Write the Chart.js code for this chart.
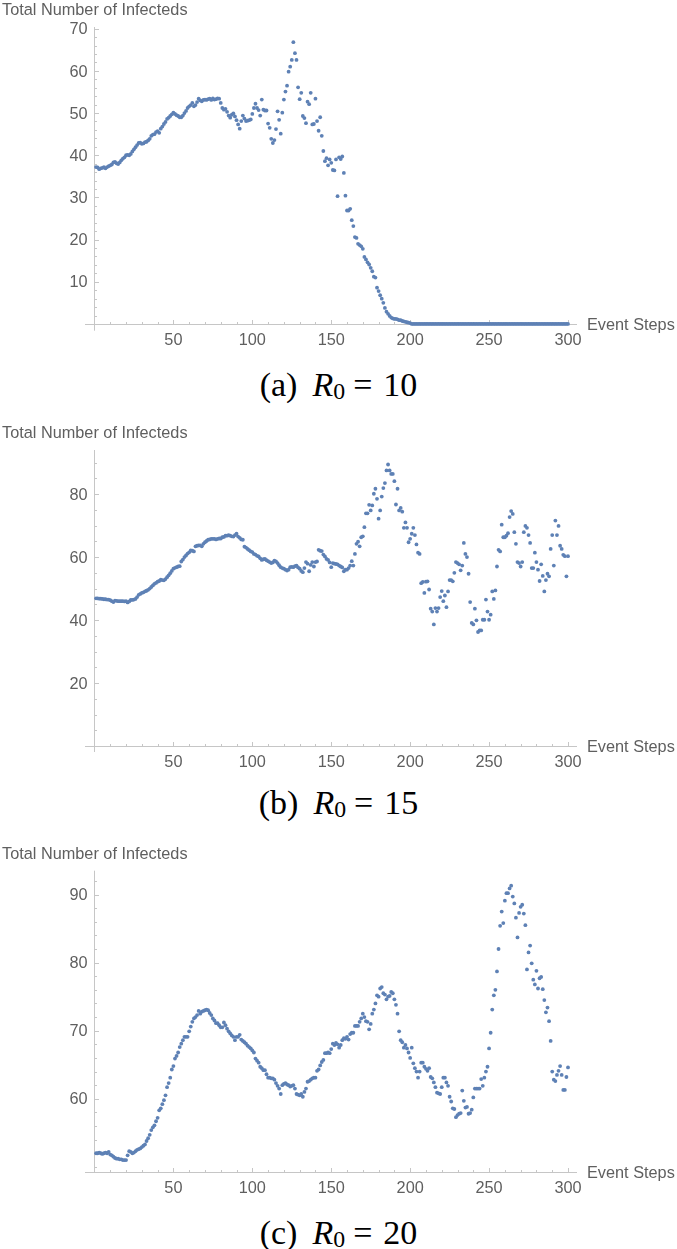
<!DOCTYPE html>
<html>
<head>
<meta charset="utf-8">
<script src="https://cdn.jsdelivr.net/npm/chart.js@4.4.1/dist/chart.umd.min.js"></script>
<style>
  html, body { margin: 0; padding: 0; background: #fff; }
  body { width: 677px; height: 1249px; position: relative; overflow: hidden; }
  canvas { position: absolute; left: 0; }
  .cap { position: absolute; left: 0; width: 677px; text-align: center; white-space: nowrap;
         font: 34px "Liberation Serif", serif; line-height: 34px; color: #000; }
  .cap i { margin-left: 15px; }
  .cap sub { font-size: 0.7em; vertical-align: -0.12em; line-height: 0; }
  .cap .eq { margin-left: 8px; }
  .cap .n { margin-left: 11px; }
</style>
</head>
<body>
<canvas id="chartA" width="677" height="360" style="top:0px"></canvas>
<canvas id="chartB" width="677" height="360" style="top:420px"></canvas>
<canvas id="chartC" width="677" height="360" style="top:840px"></canvas>
<div class="cap" style="top:368px">(a)<i>R</i><sub>0</sub><span class="eq">=</span><span class="n">10</span></div>
<div class="cap" style="top:786px">(b)<i>R</i><sub>0</sub><span class="eq">=</span><span class="n">15</span></div>
<div class="cap" style="top:1216px">(c)<i>R</i><sub>0</sub><span class="eq">=</span><span class="n">20</span></div>
<script>
// event steps 1..300
const steps = Array.from({ length: 300 }, (_, i) => i + 1);

// R0 = 10
const infectedR10 = [
  37.2, 37.1, 36.7, 36.9, 37.0, 37.2, 36.9, 37.2, 37.4, 37.6,
  37.8, 38.3, 38.4, 38.1, 37.9, 38.3, 38.8, 39.2, 39.5, 40.0,
  40.1, 40.0, 40.3, 40.9, 41.4, 41.9, 42.4, 42.9, 43.0, 42.7,
  42.8, 43.1, 43.2, 43.5, 43.9, 44.6, 44.9, 45.0, 45.5, 45.7,
  45.3, 46.3, 46.8, 47.4, 47.9, 48.6, 48.9, 49.3, 49.7, 50.1,
  49.8, 49.5, 49.3, 49.0, 49.0, 49.4, 50.0, 50.5, 51.2, 51.6,
  51.9, 52.4, 51.6, 51.9, 52.6, 53.4, 53.0, 52.8, 53.1, 53.2,
  53.1, 53.3, 53.4, 53.1, 53.5, 53.2, 53.3, 53.5, 53.4, 52.4,
  51.2, 50.8, 51.0, 50.3, 49.4, 48.9, 49.6, 49.9, 49.2, 48.3,
  47.3, 46.3, 48.1, 49.4, 48.7, 48.1, 48.2, 48.3, 48.5, 49.8,
  51.2, 52.2, 51.2, 50.7, 49.4, 53.2, 50.8, 50.6, 50.6, 47.5,
  46.5, 43.9, 42.9, 43.6, 46.2, 50.4, 48.4, 45.1, 50.1, 53.2,
  55.1, 56.5, 59.8, 61.0, 62.6, 66.8, 64.2, 62.6, 56.1, 53.3,
  54.8, 49.3, 48.8, 47.6, 52.7, 52.1, 54.8, 47.3, 47.4, 53.4,
  48.1, 45.8, 49.0, 44.6, 41.0, 38.6, 39.3, 37.6, 39.0, 38.2,
  36.5, 36.4, 39.0, 30.3, 39.5, 39.1, 39.7, 35.8, 30.4, 26.9,
  26.9, 27.3, 24.6, 23.2, 20.6, 20.4, 19.0, 18.7, 18.4, 17.8,
  15.9, 15.3, 14.6, 14.1, 13.3, 12.5, 11.2, 11.0, 8.6, 7.8,
  6.8, 6.0, 5.0, 3.8, 2.9, 2.4, 1.9, 1.5, 1.3, 1.2,
  1.2, 1.1, 0.9, 0.9, 0.7, 0.6, 0.5, 0.4, 0.3, 0.2,
  0, 0, 0, 0, 0, 0, 0, 0, 0, 0,
  0, 0, 0, 0, 0, 0, 0, 0, 0, 0,
  0, 0, 0, 0, 0, 0, 0, 0, 0, 0,
  0, 0, 0, 0, 0, 0, 0, 0, 0, 0,
  0, 0, 0, 0, 0, 0, 0, 0, 0, 0,
  0, 0, 0, 0, 0, 0, 0, 0, 0, 0,
  0, 0, 0, 0, 0, 0, 0, 0, 0, 0,
  0, 0, 0, 0, 0, 0, 0, 0, 0, 0,
  0, 0, 0, 0, 0, 0, 0, 0, 0, 0,
  0, 0, 0, 0, 0, 0, 0, 0, 0, 0
];

// R0 = 15
const infectedR15 = [
  46.9, 46.9, 46.8, 46.8, 46.7, 46.6, 46.6, 46.5, 46.5, 46.3,
  46.0, 45.7, 46.2, 46.1, 46.0, 46.0, 46.0, 46.0, 45.9, 46.0,
  45.6, 45.9, 46.4, 46.4, 46.5, 46.7, 47.3, 48.0, 48.3, 48.6,
  48.8, 49.1, 49.3, 49.6, 50.0, 50.5, 51.0, 51.5, 51.8, 52.2,
  52.4, 52.8, 52.7, 52.6, 53.0, 53.6, 54.2, 54.9, 55.6, 56.3,
  56.6, 56.8, 57.0, 57.1, 58.6, 59.2, 60.0, 60.5, 61.1, 61.5,
  62.1, 62.0, 61.8, 63.4, 63.6, 63.7, 63.7, 63.4, 64.2, 64.7,
  65.1, 65.5, 65.6, 65.8, 65.8, 65.8, 65.6, 65.8, 65.9, 65.9,
  66.3, 66.4, 66.8, 66.8, 67.0, 66.8, 66.6, 66.5, 67.0, 67.4,
  66.5, 66.1, 65.6, 65.5, 63.3, 63.0, 62.6, 62.2, 61.8, 61.6,
  61.0, 60.8, 60.4, 60.2, 59.6, 59.1, 59.3, 59.4, 59.0, 58.7,
  58.4, 58.1, 58.3, 58.9, 58.6, 58.1, 57.4, 56.8, 56.5, 56.3,
  56.0, 55.7, 56.0, 56.8, 56.9, 56.8, 57.1, 57.3, 56.7, 56.3,
  55.6, 55.2, 56.5, 58.4, 57.9, 55.5, 57.5, 58.4, 57.0, 58.4,
  58.6, 62.3, 62.0, 61.9, 60.8, 60.2, 59.4, 59.1, 58.3, 56.8,
  58.1, 57.9, 57.8, 57.7, 57.3, 57.0, 56.7, 55.5, 56.0, 56.0,
  56.5, 57.3, 58.7, 57.3, 61.0, 64.2, 64.9, 63.4, 66.3, 66.6,
  69.5, 73.9, 73.9, 76.6, 74.8, 76.4, 80.1, 81.7, 78.5, 72.2,
  74.8, 79.2, 81.9, 83.5, 87.5, 89.4, 87.5, 86.4, 86.4, 84.1,
  76.7, 81.7, 74.8, 75.6, 74.4, 69.3, 71.0, 69.3, 64.7, 65.8,
  67.4, 69.3, 67.0, 64.0, 61.4, 61.0, 51.7, 52.1, 48.6, 52.2,
  52.3, 49.7, 43.6, 42.7, 38.6, 43.8, 42.7, 43.8, 47.3, 49.2,
  46.0, 47.8, 44.1, 49.1, 52.7, 52.7, 52.3, 55.0, 58.4, 58.1,
  57.7, 55.8, 57.3, 64.5, 61.0, 60.0, 54.7, 45.7, 39.1, 38.6,
  43.6, 39.9, 36.2, 36.7, 36.7, 40.1, 40.1, 46.5, 42.7, 40.1,
  41.7, 49.1, 46.7, 49.4, 57.0, 62.3, 61.8, 70.3, 66.3, 66.3,
  66.8, 67.6, 72.7, 74.6, 73.7, 67.9, 64.2, 58.4, 58.1, 57.0,
  58.4, 67.9, 69.9, 69.3, 67.0, 64.5, 56.5, 56.5, 61.4, 58.4,
  56.0, 52.4, 57.7, 54.0, 49.1, 52.7, 54.7, 53.9, 62.6, 67.0,
  57.3, 71.6, 67.0, 69.9, 63.6, 62.6, 60.7, 60.3, 53.9, 60.3
];

// R0 = 20
const infectedR20 = [
  52.0, 52.0, 52.1, 52.0, 51.9, 52.0, 52.1, 52.0, 52.2, 51.8,
  51.7, 51.5, 51.3, 51.2, 51.2, 51.1, 51.1, 51.0, 51.0, 51.0,
  51.7, 52.3, 52.2, 52.0, 52.1, 52.3, 52.5, 52.6, 52.7, 52.9,
  53.1, 53.3, 53.8, 54.2, 54.7, 55.4, 55.8, 56.1, 56.7, 57.2,
  58.3, 58.6, 59.2, 59.8, 60.5, 61.7, 62.3, 63.1, 64.3, 64.8,
  65.9, 66.3, 66.8, 67.6, 68.1, 68.6, 69.1, 69.1, 69.1, 69.9,
  70.6, 71.3, 71.8, 72.0, 72.3, 72.9, 72.5, 72.8, 72.9, 73.0,
  73.1, 73.0, 72.6, 72.3, 71.8, 71.5, 71.1, 71.1, 70.8, 70.5,
  70.5, 71.2, 70.8, 70.3, 69.9, 69.6, 69.3, 69.1, 68.6, 69.1,
  69.1, 69.4, 68.7, 68.5, 68.3, 68.1, 67.8, 67.6, 67.4, 67.1,
  66.8, 65.9, 65.6, 65.3, 64.7, 64.5, 64.2, 64.2, 63.6, 63.1,
  63.1, 63.0, 63.0, 62.8, 62.3, 61.9, 61.5, 60.7, 62.0, 62.2,
  62.3, 62.1, 62.0, 61.8, 61.9, 62.0, 61.5, 60.7, 60.6, 60.5,
  60.7, 60.3, 61.0, 61.5, 62.5, 62.6, 62.8, 63.0, 63.1, 63.1,
  64.1, 64.3, 64.9, 65.4, 65.7, 66.7, 66.7, 66.8, 66.7, 67.3,
  68.1, 67.9, 68.2, 68.0, 67.5, 67.9, 68.6, 68.9, 68.8, 69.1,
  68.7, 69.5, 69.7, 69.7, 70.7, 70.7, 70.7, 71.3, 71.8, 72.5,
  72.0, 71.4, 71.3, 70.2, 71.0, 72.5, 73.1, 74.0, 75.2, 75.0,
  76.2, 76.4, 75.5, 75.3, 74.6, 75.0, 75.1, 75.7, 75.5, 74.6,
  73.8, 72.5, 69.9, 68.6, 68.3, 67.5, 67.9, 67.4, 66.8, 66.0,
  67.5, 65.2, 64.5, 64.0, 63.1, 64.0, 65.3, 65.3, 64.7, 64.4,
  64.1, 64.5, 63.2, 63.0, 62.4, 61.7, 60.9, 60.8, 60.7, 61.7,
  63.1, 63.1, 62.4, 61.9, 60.3, 59.6, 58.6, 58.5, 57.3, 57.6,
  57.8, 57.9, 61.2, 59.7, 58.7, 58.8, 57.8, 57.9, 58.4, 60.2,
  61.5, 61.5, 61.5, 61.5, 62.9, 61.9, 63.1, 64.0, 64.7, 67.4,
  69.7, 73.1, 75.2, 76.0, 78.7, 82.0, 85.4, 87.5, 85.8, 89.1,
  90.2, 90.2, 90.9, 91.3, 89.7, 88.7, 86.6, 83.7, 87.3, 88.2,
  88.5, 87.2, 85.5, 79.0, 81.5, 82.5, 79.9, 77.5, 76.8, 78.8,
  76.2, 77.7, 77.9, 76.1, 74.5, 72.7, 73.4, 71.4, 68.5, 64.0,
  62.8, 62.6, 63.5, 64.1, 64.8, 63.5, 61.3, 61.3, 63.2, 64.6
];

const xTicks = [50, 100, 150, 200, 250, 300];
const yTicksR10 = [10, 20, 30, 40, 50, 60, 70];
const yTicksR15 = [20, 40, 60, 80];
const yTicksR20 = [60, 70, 80, 90];
const yLabel = 'Total Number of Infecteds';
const xLabel = 'Event Steps';

const DOT = '#5e81b5';
const AXIS = '#c6c6c6';
const TEXT = '#5f5f5f';

// Mathematica-like axes: y axis at x=0, x axis at crossY, inward ticks
const mmaAxes = {
  id: 'mmaAxes',
  beforeDatasetsDraw(chart, args, o) {
    const { ctx, chartArea: a, scales: { x, y } } = chart;
    const ox = Math.round(x.getPixelForValue(0)) + 0.5;
    const oy = Math.round(y.getPixelForValue(o.crossY)) + 0.5;
    ctx.save();
    ctx.strokeStyle = AXIS;
    ctx.lineWidth = 1;
    ctx.beginPath();
    ctx.moveTo(a.left, oy); ctx.lineTo(a.right, oy);
    ctx.moveTo(ox, a.top); ctx.lineTo(ox, a.bottom);
    for (let v = o.xMinor; v <= x.max; v += o.xMinor) {
      const px = Math.round(x.getPixelForValue(v)) + 0.5;
      const len = xTicks.includes(v) ? 4.5 : 2.5;
      ctx.moveTo(px, oy); ctx.lineTo(px, oy - len);
    }
    for (let v = Math.ceil(y.min / o.yMinor) * o.yMinor; v <= y.max; v += o.yMinor) {
      if (v <= o.crossY) continue;
      const py = Math.round(y.getPixelForValue(v)) + 0.5;
      const len = o.yTicks.includes(v) ? 4.5 : 2.5;
      ctx.moveTo(ox, py); ctx.lineTo(ox + len, py);
    }
    ctx.stroke();

    ctx.fillStyle = TEXT;
    ctx.font = '16.3px "Liberation Sans", Arial, sans-serif';
    ctx.textBaseline = 'alphabetic';
    ctx.textAlign = 'center';
    xTicks.forEach(v => ctx.fillText(String(v), x.getPixelForValue(v), oy + 20));
    ctx.textAlign = 'right';
    o.yTicks.forEach(v => ctx.fillText(String(v), ox - 7, y.getPixelForValue(v) + 5.7));
    ctx.textAlign = 'left';
    ctx.fillText(yLabel, 2, a.top - 12);
    ctx.fillText(xLabel, a.right + 10, oy + 5.5);
    ctx.restore();
  }
};

function drawPanel(id, values, yTicks, spec) {
  const canvas = document.getElementById(id);
  const h = canvas.height;
  new Chart(canvas, {
    type: 'scatter',
    data: {
      datasets: [{
        data: steps.map((s, i) => ({ x: s, y: values[i] })),
        backgroundColor: DOT,
        borderWidth: 0,
        pointRadius: 1.9,
        pointHoverRadius: 1.9,
        clip: false
      }]
    },
    options: {
      responsive: false,
      animation: false,
      devicePixelRatio: 1,
      events: [],
      layout: {
        padding: {
          left: 85,
          right: 100,
          top: spec.areaTop - spec.canvasTop,
          bottom: spec.canvasTop + h - spec.areaBottom
        }
      },
      plugins: {
        legend: { display: false },
        tooltip: { enabled: false },
        mmaAxes: { crossY: spec.crossY, xMinor: 10, yMinor: spec.yMinor, yTicks: yTicks }
      },
      scales: {
        x: { type: 'linear', min: -6, max: 305.7, display: false },
        y: { type: 'linear', min: spec.yMin, max: spec.yMax, display: false }
      }
    },
    plugins: [mmaAxes]
  });
}

drawPanel('chartA', infectedR10, yTicksR10,
  { canvasTop: 0, areaTop: 27, areaBottom: 330.7, yMin: -1.6, yMax: 70.4, crossY: 0, yMinor: 2 });
drawPanel('chartB', infectedR15, yTicksR15,
  { canvasTop: 420, areaTop: 450, areaBottom: 752, yMin: -1.9, yMax: 94.0, crossY: 0, yMinor: 5 });
drawPanel('chartC', infectedR20, yTicksR20,
  { canvasTop: 840, areaTop: 870.7, areaBottom: 1172.3, yMin: 49.2, yMax: 93.5, crossY: 49.2, yMinor: 2 });
</script>
</body>
</html>
